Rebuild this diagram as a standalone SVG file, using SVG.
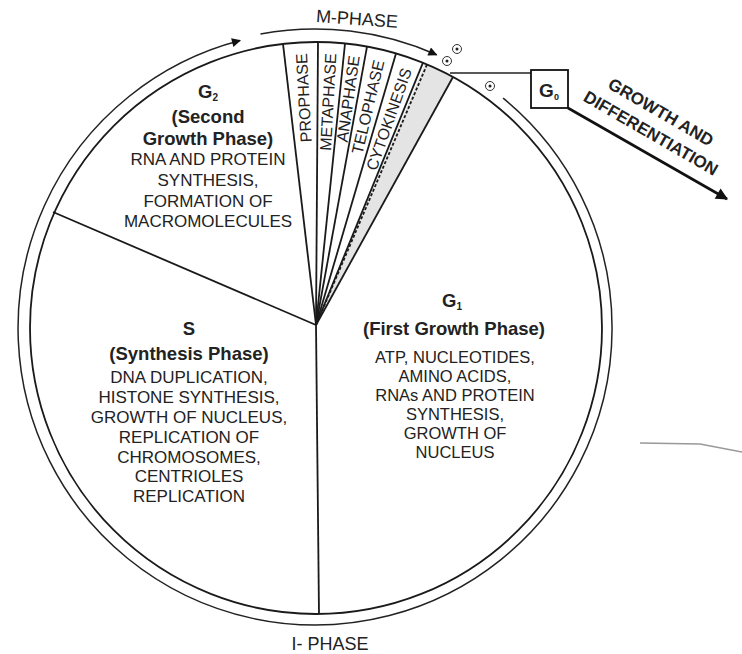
<svg xmlns="http://www.w3.org/2000/svg" width="742" height="654" viewBox="0 0 742 654">
<style>
  text { font-family: "Liberation Sans", Arial, sans-serif; fill: #222; text-anchor: middle; }
  .h { font-weight: bold; font-size: 18.5px; }
  .b { font-size: 17px; }
  .b1 { font-size: 16.5px; }
  .ph { font-size: 16px; }
  .ln { fill: none; stroke: #1a1a1a; stroke-width: 1.8; }
  .thin { fill: none; stroke: #222; stroke-width: 1.5; }
  .dot { fill: #fff; stroke: #333; stroke-width: 1; }
</style>
<defs>
  <marker id="ah" viewBox="0 0 10 10" refX="9" refY="5" markerWidth="11" markerHeight="9" markerUnits="userSpaceOnUse" orient="auto">
    <path d="M0,0 L10,5 L0,10 Z" fill="#111"/>
  </marker>
  <marker id="ah2" viewBox="0 0 10 10" refX="9" refY="5" markerWidth="16" markerHeight="12" markerUnits="userSpaceOnUse" orient="auto">
    <path d="M0,0 L10,5 L0,10 Z" fill="#111"/>
  </marker>
</defs>
<rect width="742" height="654" fill="#fff"/>

<g id="wheel">
  <path d="M316 325 L425 63.6 A286 286 0 0 1 453 77 Z" fill="#e4e4e4"/>
  <circle cx="316" cy="328" r="286" class="ln" stroke-width="2"/>
</g>

<g id="connectors">
  <path id="outer-ring" d="M503.1 98.1 A297 297 0 1 1 240.1 40.6" class="thin" marker-end="url(#ah)"/>
  <path id="m-arc" d="M260.5 34 A299 299 0 0 1 436.6 54.8" class="thin" marker-end="url(#ah)"/>
  <line x1="316" y1="325" x2="319" y2="614" class="ln"/>
  <line x1="316" y1="325" x2="53" y2="212" class="ln"/>
  <line x1="316" y1="325" x2="283" y2="43.9" class="ln" stroke-width="1.5"/>
  <line x1="316" y1="325" x2="318" y2="42" class="ln" stroke-width="1.5"/>
  <line x1="316" y1="325" x2="345" y2="43.5" class="ln" stroke-width="1.5"/>
  <line x1="316" y1="325" x2="367" y2="46.6" class="ln" stroke-width="1.5"/>
  <line x1="316" y1="325" x2="396" y2="53.4" class="ln" stroke-width="1.5"/>
  <line x1="316" y1="325" x2="423" y2="62.7" class="ln" stroke-width="1.5"/>
  <line x1="316" y1="325" x2="427" y2="64.6" class="ln" stroke-width="1.2" stroke-dasharray="3 2"/>
  <line x1="316" y1="325" x2="453" y2="77" class="ln" stroke-width="1.5"/>
  <line x1="450" y1="73" x2="531" y2="73" class="thin"/>
  <line x1="568" y1="108" x2="727" y2="199" stroke="#111" stroke-width="2.6" marker-end="url(#ah2)"/>
</g>

<g id="dots">
  <circle cx="447" cy="61" r="4.5" class="dot"/><circle cx="447" cy="61" r="1.5" fill="#222"/>
  <circle cx="457" cy="49" r="4.5" class="dot"/><circle cx="457" cy="49" r="1.5" fill="#222"/>
  <circle cx="490" cy="86" r="4.5" class="dot"/><circle cx="490" cy="86" r="1.5" fill="#222"/>
</g>

<g id="m-phase-label">
  <text x="357" y="25" font-size="18" transform="rotate(4 357 19)">M-PHASE</text>
</g>

<g id="g2">
  <text x="208" y="98" class="h">G<tspan font-size="10" dy="3">2</tspan></text>
  <text x="208" y="123" class="h">(Second</text>
  <text x="208" y="145" class="h">Growth Phase)</text>
  <text x="208" y="165" class="b">RNA AND PROTEIN</text>
  <text x="208" y="186" class="b">SYNTHESIS,</text>
  <text x="208" y="207" class="b">FORMATION OF</text>
  <text x="208" y="227" class="b">MACROMOLECULES</text>
</g>

<g id="s-phase">
  <text x="189" y="335" class="h">S</text>
  <text x="189" y="360" class="h">(Synthesis Phase)</text>
  <text x="189" y="383" class="b">DNA DUPLICATION,</text>
  <text x="189" y="403" class="b">HISTONE SYNTHESIS,</text>
  <text x="189" y="423" class="b">GROWTH OF NUCLEUS,</text>
  <text x="189" y="443" class="b">REPLICATION OF</text>
  <text x="189" y="463" class="b">CHROMOSOMES,</text>
  <text x="189" y="482" class="b">CENTRIOLES</text>
  <text x="189" y="502" class="b">REPLICATION</text>
</g>

<g id="g1">
  <text x="452" y="307" class="h">G<tspan font-size="10" dy="3">1</tspan></text>
  <text x="454" y="335" class="h">(First Growth Phase)</text>
  <text x="455" y="363" class="b1">ATP, NUCLEOTIDES,</text>
  <text x="455" y="382" class="b1">AMINO ACIDS,</text>
  <text x="455" y="401" class="b1">RNAs AND PROTEIN</text>
  <text x="455" y="420" class="b1">SYNTHESIS,</text>
  <text x="455" y="439" class="b1">GROWTH OF</text>
  <text x="455" y="458" class="b1">NUCLEUS</text>
</g>

<g id="m-stages">
  <text x="301.3" y="53.4" dy="0.35em" class="ph" text-anchor="end" style="text-anchor:end" transform="rotate(-93.1 301.3 53.4)">PROPHASE</text>
  <text x="330.7" y="53.4" dy="0.35em" class="ph" style="text-anchor:end" transform="rotate(-86.9 330.7 53.4)">METAPHASE</text>
  <text x="354.3" y="55.7" dy="0.35em" class="ph" style="text-anchor:end" transform="rotate(-81.9 354.3 55.7)">ANAPHASE</text>
  <text x="379" y="60.4" dy="0.35em" class="ph" style="text-anchor:end" transform="rotate(-76.6 379 60.4)">TELOPHASE</text>
  <text x="406.8" y="68.6" dy="0.35em" class="ph" style="text-anchor:end" transform="rotate(-70.5 406.8 68.6)">CYTOKINESIS</text>
</g>

<g id="g0">
  <rect x="531" y="70" width="37" height="38" fill="#fff" stroke="#111" stroke-width="1.8"/>
  <text x="549" y="97" font-size="19" font-weight="bold">G<tspan font-size="9" dy="3">0</tspan></text>
</g>

<g id="growth-label">
  <text x="661" y="118" font-size="17" font-weight="bold" transform="rotate(30 661 112)">GROWTH AND</text>
  <text x="651" y="139" font-size="17" font-weight="bold" transform="rotate(30 651 133)">DIFFERENTIATION</text>
</g>

<g id="i-phase-label">
  <text x="330" y="650" font-size="18">I- PHASE</text>
</g>

<path d="M640 443 L700 444 L742 452" fill="none" stroke="#999" stroke-width="1.3"/>
</svg>
